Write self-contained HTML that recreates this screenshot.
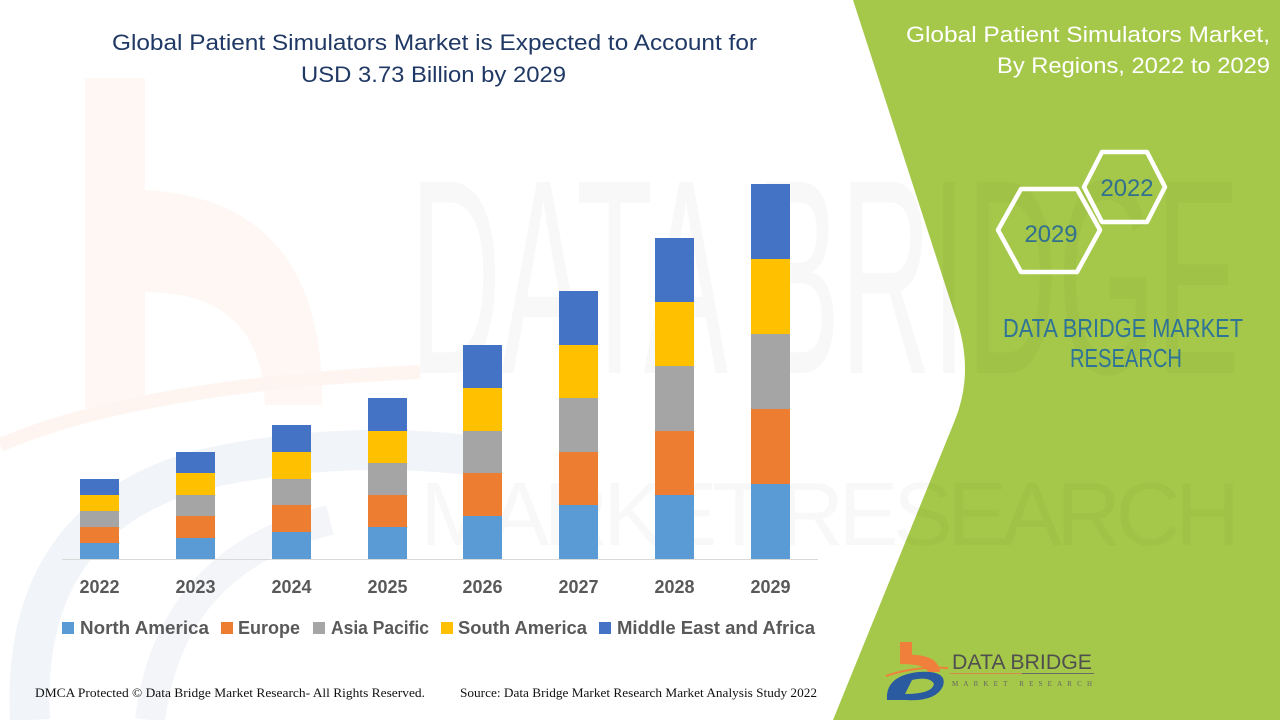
<!DOCTYPE html>
<html><head><meta charset="utf-8"><style>
html,body{margin:0;padding:0;background:#fff;}
svg{display:block;}
</style></head><body>
<svg width="1280" height="720" viewBox="0 0 1280 720" xmlns="http://www.w3.org/2000/svg">
<rect width="1280" height="720" fill="#ffffff"/>
<!-- faint watermark logo left -->
<g>
<rect x="85" y="78" width="60" height="330" fill="#FEF7F3"/>
<path d="M145,190 Q325,200 322,405 L265,405 Q262,292 145,292 Z" fill="#FEF7F3"/>
<path d="M0,445 Q140,385 420,372" stroke="#FEF5F1" stroke-width="14" fill="none"/>
<path d="M30,720 Q20,520 200,470 Q330,440 470,455" stroke="#F1F4F8" stroke-width="40" fill="none"/>
<path d="M150,720 Q170,560 330,520" stroke="#F3F5F9" stroke-width="30" fill="none"/>
</g>
<!-- green panel -->
<path d="M853,0 L955,315 Q975,370 955,420 L833,720 L1280,720 L1280,0 Z" fill="#A5C84A"/>
<!-- watermark text -->
<text x="410" y="373" font-family="Liberation Sans, sans-serif" font-size="278" fill="#000" opacity="0.025" textLength="830" lengthAdjust="spacingAndGlyphs">DATA BRIDGE</text>
<text x="420" y="545" font-family="Liberation Sans, sans-serif" font-size="90" fill="#000" opacity="0.022" textLength="820" lengthAdjust="spacing">MARKET  RESEARCH</text>
<!-- title -->
<text x="112" y="50" font-family="Liberation Sans, sans-serif" font-size="22" fill="#1F3864" textLength="645" lengthAdjust="spacingAndGlyphs">Global Patient Simulators Market is Expected to Account for</text>
<text x="301" y="82" font-family="Liberation Sans, sans-serif" font-size="22" fill="#1F3864" textLength="265" lengthAdjust="spacingAndGlyphs">USD 3.73 Billion by 2029</text>
<!-- axis -->
<line x1="62" y1="559.5" x2="818" y2="559.5" stroke="#D9D9D9" stroke-width="1"/>
<!-- bars -->
<g id="bars">
<rect x="80" y="543" width="39" height="16" fill="#5B9BD5"/>
<rect x="80" y="527" width="39" height="16" fill="#ED7D31"/>
<rect x="80" y="511" width="39" height="16" fill="#A5A5A5"/>
<rect x="80" y="495" width="39" height="16" fill="#FFC000"/>
<rect x="80" y="479" width="39" height="16" fill="#4472C4"/>
<rect x="176" y="538" width="39" height="21" fill="#5B9BD5"/>
<rect x="176" y="516" width="39" height="22" fill="#ED7D31"/>
<rect x="176" y="495" width="39" height="21" fill="#A5A5A5"/>
<rect x="176" y="473" width="39" height="22" fill="#FFC000"/>
<rect x="176" y="452" width="39" height="21" fill="#4472C4"/>
<rect x="272" y="532" width="39" height="27" fill="#5B9BD5"/>
<rect x="272" y="505" width="39" height="27" fill="#ED7D31"/>
<rect x="272" y="479" width="39" height="26" fill="#A5A5A5"/>
<rect x="272" y="452" width="39" height="27" fill="#FFC000"/>
<rect x="272" y="425" width="39" height="27" fill="#4472C4"/>
<rect x="368" y="527" width="39" height="32" fill="#5B9BD5"/>
<rect x="368" y="495" width="39" height="32" fill="#ED7D31"/>
<rect x="368" y="463" width="39" height="32" fill="#A5A5A5"/>
<rect x="368" y="431" width="39" height="32" fill="#FFC000"/>
<rect x="368" y="398" width="39" height="33" fill="#4472C4"/>
<rect x="463" y="516" width="39" height="43" fill="#5B9BD5"/>
<rect x="463" y="473" width="39" height="43" fill="#ED7D31"/>
<rect x="463" y="431" width="39" height="42" fill="#A5A5A5"/>
<rect x="463" y="388" width="39" height="43" fill="#FFC000"/>
<rect x="463" y="345" width="39" height="43" fill="#4472C4"/>
<rect x="559" y="505" width="39" height="54" fill="#5B9BD5"/>
<rect x="559" y="452" width="39" height="53" fill="#ED7D31"/>
<rect x="559" y="398" width="39" height="54" fill="#A5A5A5"/>
<rect x="559" y="345" width="39" height="53" fill="#FFC000"/>
<rect x="559" y="291" width="39" height="54" fill="#4472C4"/>
<rect x="655" y="495" width="39" height="64" fill="#5B9BD5"/>
<rect x="655" y="431" width="39" height="64" fill="#ED7D31"/>
<rect x="655" y="366" width="39" height="65" fill="#A5A5A5"/>
<rect x="655" y="302" width="39" height="64" fill="#FFC000"/>
<rect x="655" y="238" width="39" height="64" fill="#4472C4"/>
<rect x="751" y="484" width="39" height="75" fill="#5B9BD5"/>
<rect x="751" y="409" width="39" height="75" fill="#ED7D31"/>
<rect x="751" y="334" width="39" height="75" fill="#A5A5A5"/>
<rect x="751" y="259" width="39" height="75" fill="#FFC000"/>
<rect x="751" y="184" width="39" height="75" fill="#4472C4"/>
</g>
<!-- year labels -->
<g font-family="Liberation Sans, sans-serif" font-weight="bold" font-size="18" fill="#595959" text-anchor="middle">
<text x="99.5" y="593">2022</text>
<text x="195.5" y="593">2023</text>
<text x="291.5" y="593">2024</text>
<text x="387.5" y="593">2025</text>
<text x="482.5" y="593">2026</text>
<text x="578.5" y="593">2027</text>
<text x="674.5" y="593">2028</text>
<text x="770.5" y="593">2029</text>
</g>
<!-- legend -->
<rect x="62" y="622" width="12" height="12" fill="#5B9BD5"/>
<rect x="221" y="622" width="12" height="12" fill="#ED7D31"/>
<rect x="313" y="622" width="12" height="12" fill="#A5A5A5"/>
<rect x="441" y="622" width="12" height="12" fill="#FFC000"/>
<rect x="599" y="622" width="12" height="12" fill="#4472C4"/>
<g font-family="Liberation Sans, sans-serif" font-weight="bold" font-size="18" fill="#595959">
<text x="80" y="634" textLength="129" lengthAdjust="spacingAndGlyphs">North America</text>
<text x="238" y="634" textLength="62" lengthAdjust="spacingAndGlyphs">Europe</text>
<text x="331" y="634" textLength="98" lengthAdjust="spacingAndGlyphs">Asia Pacific</text>
<text x="458" y="634" textLength="129" lengthAdjust="spacingAndGlyphs">South America</text>
<text x="617" y="634" textLength="198" lengthAdjust="spacingAndGlyphs">Middle East and Africa</text>
</g>
<!-- footer -->
<g font-family="Liberation Serif, serif" font-size="12.5" fill="#111">
<text x="35" y="697" textLength="390" lengthAdjust="spacingAndGlyphs">DMCA Protected © Data Bridge Market Research- All Rights Reserved.</text>
<text x="460" y="697" textLength="357" lengthAdjust="spacingAndGlyphs">Source: Data Bridge Market Research Market Analysis Study 2022</text>
</g>
<!-- right title -->
<g font-family="Liberation Sans, sans-serif" font-size="22" fill="#ffffff">
<text x="906" y="42" textLength="364" lengthAdjust="spacingAndGlyphs">Global Patient Simulators Market,</text>
<text x="997" y="73" textLength="273" lengthAdjust="spacingAndGlyphs">By Regions, 2022 to 2029</text>
</g>
<!-- hexagons -->
<polygon points="1084,187 1102,152 1147,152 1165,187 1147,222 1102,222" fill="none" stroke="#ffffff" stroke-width="4.5" stroke-linejoin="round"/>
<polygon points="998,230 1021,189 1077,189 1100,230 1077,272 1021,272" fill="none" stroke="#ffffff" stroke-width="4.5" stroke-linejoin="round"/>
<g font-family="Liberation Sans, sans-serif" font-size="24" fill="#31708E" text-anchor="middle">
<text x="1127" y="196" textLength="53" lengthAdjust="spacingAndGlyphs">2022</text>
<text x="1051" y="242" textLength="53" lengthAdjust="spacingAndGlyphs">2029</text>
</g>
<g font-family="Liberation Sans, sans-serif" font-size="26" fill="#2F7397">
<text x="1003" y="337" textLength="240" lengthAdjust="spacingAndGlyphs">DATA BRIDGE MARKET</text>
<text x="1070" y="367" textLength="112" lengthAdjust="spacingAndGlyphs">RESEARCH</text>
</g>
<!-- bottom logo -->
<g>
<rect x="900" y="642" width="12" height="22" fill="#F07F3C"/>
<path d="M900,655 Q938,652 940,672 L928,672 Q926,664 900,664 Z" fill="#F07F3C"/>
<path d="M886,676 Q915,666 948,668" stroke="#F07F3C" stroke-width="2" fill="none"/>
<path d="M887,700 Q885,676 918,672 Q948,670 943,686 Q936,702 905,700 Z M905,694 Q932,694 934,684 Q930,676 912,680 Z" fill="#2A5AA0" fill-rule="evenodd"/>
<text x="952" y="669" font-family="Liberation Sans, sans-serif" font-size="21" fill="#4F4F4F" textLength="140" lengthAdjust="spacingAndGlyphs">DATA BRIDGE</text>
<line x1="950" y1="673.5" x2="1022" y2="673.5" stroke="#D48A4A" stroke-width="1"/>
<line x1="1022" y1="673.5" x2="1094" y2="673.5" stroke="#6A6A6A" stroke-width="1"/>
<text x="952" y="686" font-family="Liberation Serif, serif" font-size="7" fill="#666" textLength="140" lengthAdjust="spacing">MARKET RESEARCH</text>
</g>
</svg>
</body></html>
